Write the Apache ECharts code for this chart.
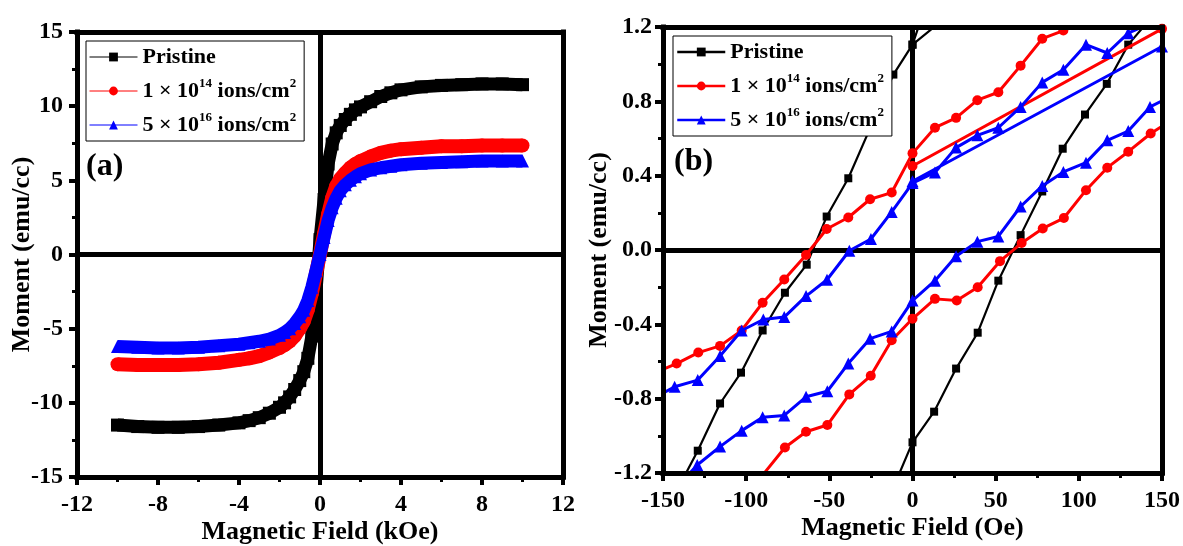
<!DOCTYPE html>
<html><head><meta charset="utf-8">
<script src="https://cdn.jsdelivr.net/npm/echarts@6/dist/echarts.min.js"></script>
<style>html,body{margin:0;padding:0;background:#fff}#c{width:1183px;height:546px}</style>
</head><body><div id="c"></div>
<script>
// ---------- DATA ----------
const seriesNames = ['Pristine', '1 × 10^14 ions/cm^2', '5 × 10^16 ions/cm^2'];

// Panel (a): field in kOe, moment in emu/cc
const fieldK = [-10, -9, -8, -7, -6, -5, -4, -3.5, -3, -2.5, -2, -1.75, -1.5, -1.25, -1, -0.8, -0.6, -0.4, -0.2, 0,
                0.2, 0.4, 0.6, 0.8, 1, 1.25, 1.5, 1.75, 2, 2.5, 3, 3.5, 4, 5, 6, 7, 8, 9, 10];
const pristineA = [-11.5, -11.6, -11.65, -11.65, -11.6, -11.5, -11.35, -11.2, -11.0, -10.7, -10.3, -10.0, -9.6, -9.1, -8.5, -7.9, -7.0, -5.5, -2.5, 1.0,
                   3.7, 6.1, 7.45, 8.2, 8.7, 9.1, 9.45, 9.75, 9.95, 10.3, 10.65, 10.9, 11.1, 11.3, 11.4, 11.45, 11.5, 11.5, 11.45];
const ion14A = [-7.4, -7.45, -7.45, -7.45, -7.4, -7.3, -7.1, -7.0, -6.85, -6.6, -6.3, -6.1, -5.85, -5.5, -5.0, -4.5, -3.7, -2.6, -1.3, 0,
                1.4, 2.7, 3.8, 4.6, 5.1, 5.5, 5.85, 6.1, 6.3, 6.6, 6.85, 7.0, 7.1, 7.2, 7.3, 7.3, 7.35, 7.35, 7.35];
const ion16A = [-6.2, -6.25, -6.3, -6.3, -6.25, -6.15, -6.05, -5.95, -5.85, -5.7, -5.45, -5.25, -5.0, -4.65, -4.2, -3.75, -3.1, -2.2, -1.1, 0,
                1.15, 2.3, 3.15, 3.8, 4.3, 4.7, 5.0, 5.25, 5.45, 5.7, 5.85, 5.95, 6.05, 6.15, 6.2, 6.25, 6.3, 6.3, 6.3];

// Panel (b): field in Oe, moment in emu/cc (null = break between out-of-view parts)
const pristineFieldB = [0, 150, null, 13, 0, -11.5, -25, -38.6, -51.6, -63.6, -76.7, -90.1, -103.1, -115.7, -129.1, -142, null,
                        -13, 0, 13, 26.2, 39.2, 51.6, 65, 78, 90.3, 103.7, 116.8, 129.7, 142.6];
const pristineMomB = [1.105, 2.2, null, 1.45, 1.105, 0.944, 0.665, 0.386, 0.18, -0.079, -0.23, -0.433, -0.66, -0.826, -1.08, -1.3, null,
                      -1.31, -1.035, -0.87, -0.638, -0.445, -0.165, 0.08, 0.315, 0.545, 0.729, 0.894, 1.105, 1.24];
const ion14FieldB = [0, 150, null, 104, 90.7, 78, 65, 51.6, 39, 26.2, 13.5, 0, -12.5, -25.5, -38.6, -51.6, -64, -77.1, -90.1, -102.7, -115.7, -128.8, -141.8, -155, null,
                     -103, -90, -76.7, -64, -51.2, -38, -25.1, -12.5, 0, 13.5, 26.6, 39.2, 52.6, 65.6, 78.3, 91, 104.3, 117.1, 129.7, 143.2, 156];
const ion14MomB = [0.452, 1.19, null, 1.24, 1.181, 1.137, 0.992, 0.849, 0.806, 0.711, 0.658, 0.52, 0.309, 0.273, 0.175, 0.113, -0.027, -0.159, -0.284, -0.433, -0.516, -0.552, -0.611, -0.66, null,
                   -1.4, -1.21, -1.063, -0.978, -0.942, -0.777, -0.677, -0.486, -0.37, -0.263, -0.272, -0.2, -0.06, 0.0375, 0.116, 0.172, 0.322, 0.443, 0.529, 0.627, 0.70];
const ion16FieldB = [0, 150, null, 156, 143, 129.7, 117.1, 104.3, 90.7, 78, 65, 51.6, 39, 26.2, 13.5, 0, -12.5, -25, -38, -51.4, -64, -77.1, -89.7, -102.7, -115.7, -129.1, -143, -156, null,
                     -142, -129.4, -115.7, -102.7, -90.1, -77.1, -64, -51.2, -38.6, -25.5, -12.5, 0, 13.5, 26.2, 39, 51.6, 65, 78, 90.7, 104.3, 117.1, 129.7, 142.8, 156];
const ion16MomB = [0.37, 1.095, null, 1.25, 1.22, 1.167, 1.06, 1.105, 0.970, 0.902, 0.770, 0.658, 0.617, 0.551, 0.417, 0.36, 0.205, 0.059, -0.004, -0.16, -0.248, -0.361, -0.374, -0.433, -0.57, -0.70, -0.736, -0.8, null,
                   -1.28, -1.157, -1.058, -0.972, -0.90, -0.89, -0.79, -0.76, -0.611, -0.477, -0.438, -0.272, -0.165, -0.034, 0.045, 0.073, 0.234, 0.345, 0.42, 0.47, 0.59, 0.64, 0.77, 0.83];

// ---------- CHART ----------
const FONT = 'Liberation Serif';
const colors = ['#000000', '#ff0000', '#0000ff'];
const symbols = ['rect', 'circle', 'triangle'];
const zip = (xs, ys) => xs.map((x, i) => (x === null || ys[i] === null) ? ['-', '-'] : [x, ys[i]]);

const lab = { fontFamily: FONT, fontWeight: 'bold', fontSize: 24, color: '#000' };
const nameStyle = { fontFamily: FONT, fontWeight: 'bold', fontSize: 26, color: '#000' };
const axLine = { onZero: false, lineStyle: { color: '#000', width: 5, cap: 'square' } };

function mainX(grid, min, max, interval, name) {
  return { gridIndex: grid, type: 'value', min, max, interval, position: 'bottom', z: 10,
    axisLine: axLine, axisTick: { length: 8, lineStyle: { color: '#000', width: 4 } },
    minorTick: { show: true, splitNumber: 2, length: 5, lineStyle: { color: '#000', width: 3 } },
    splitLine: { show: false }, minorSplitLine: { show: false },
    axisLabel: Object.assign({ margin: 16 }, lab),
    name, nameLocation: 'middle', nameGap: 42, nameMoveOverlap: false, nameTextStyle: nameStyle };
}
function mainY(grid, min, max, interval, name, fmt, gap, margin) {
  return { gridIndex: grid, type: 'value', min, max, interval, position: 'left', z: 10,
    axisLine: axLine, axisTick: { length: 8, lineStyle: { color: '#000', width: 4 } },
    minorTick: { show: true, splitNumber: 2, length: 5, lineStyle: { color: '#000', width: 3 } },
    splitLine: { show: false }, minorSplitLine: { show: false },
    axisLabel: Object.assign({ margin, formatter: fmt }, lab),
    name, nameLocation: 'middle', nameGap: gap, nameMoveOverlap: false, nameTextStyle: nameStyle };
}
function frameAxis(grid, min, max, pos) {
  return { gridIndex: grid, type: 'value', min, max, position: pos, z: 10,
    axisLine: axLine, axisTick: { show: false }, axisLabel: { show: false }, splitLine: { show: false } };
}

const zeroMark = {
  z: 1, silent: true, symbol: 'none', label: { show: false },
  lineStyle: { color: '#000', width: 5, type: 'solid' },
  data: [{ xAxis: 0 }, { yAxis: 0 }]
};

const seriesA = [pristineA, ion14A, ion16A].map((ys, i) => ({
  name: seriesNames[i], type: 'line', xAxisIndex: 0, yAxisIndex: 0,
  data: zip(fieldK, ys), symbol: symbols[i], symbolSize: [13, 14, 13][i],
  lineStyle: { color: colors[i], width: [13, 14, 13][i], join: 'round' },
  itemStyle: { color: colors[i] }, z: 2 + i, animation: false,
  markLine: i === 0 ? zeroMark : undefined
}));
const seriesB = [[pristineFieldB, pristineMomB], [ion14FieldB, ion14MomB], [ion16FieldB, ion16MomB]].map((d, i) => ({
  name: seriesNames[i], type: 'line', xAxisIndex: 2, yAxisIndex: 2,
  data: zip(d[0], d[1]), symbol: symbols[i], symbolSize: [8, 10, 12][i],
  lineStyle: { color: colors[i], width: [2.2, 3, 3][i] }, connectNulls: false,
  itemStyle: { color: colors[i] }, z: 2 + i, animation: false,
  markLine: i === 0 ? zeroMark : undefined
}));

const legendText = {
  fontFamily: FONT, fontWeight: 'bold', fontSize: 22, color: '#000', lineHeight: 28,
  rich: { sup: { fontFamily: FONT, fontWeight: 'bold', fontSize: 13, color: '#000', verticalAlign: 'top', lineHeight: 28 } }
};
const legendFmt = n => n.replace(/\^(\d+)/g, '{sup|$1}');
function makeLegend(left, top, lw) {
  return { data: seriesNames, orient: 'vertical', left, top, itemWidth: 48, itemHeight: 11, itemGap: 6,
    padding: [2, 8, 2, 3], borderColor: '#000', borderWidth: 1, backgroundColor: '#fff', selectedMode: false,
    lineStyle: { width: lw }, textStyle: legendText, formatter: legendFmt, z: 6 };
}

const chart = echarts.init(document.getElementById('c'), null, { renderer: 'canvas' });
chart.setOption({
  animation: false,
  backgroundColor: '#fff',
  grid: [
    { left: 77, top: 32, width: 486, height: 445, outerBoundsMode: 'none', containLabel: false },
    { left: 663, top: 27, width: 499, height: 446, outerBoundsMode: 'none', containLabel: false }
  ],
  xAxis: [
    mainX(0, -12, 12, 4, 'Magnetic Field (kOe)'),
    frameAxis(0, -12, 12, 'top'),
    mainX(1, -150, 150, 50, 'Magnetic Field (Oe)'),
    frameAxis(1, -150, 150, 'top')
  ],
  yAxis: [
    mainY(0, -15, 15, 5, 'Moment (emu/cc)', v => String(v), 42, 14),
    frameAxis(0, -15, 15, 'right'),
    mainY(1, -1.2, 1.2, 0.4, 'Moment (emu/cc)', v => v.toFixed(1), 51, 11),
    frameAxis(1, -1.2, 1.2, 'right')
  ],
  legend: [makeLegend(86, 41, 1), makeLegend(673, 36, 2.5)],
  title: [
    { text: '(a)', left: 86, top: 151, padding: 0, textStyle: { fontFamily: FONT, fontWeight: 'bold', fontSize: 32, color: '#000' } },
    { text: '(b)', left: 674, top: 146, padding: 0, textStyle: { fontFamily: FONT, fontWeight: 'bold', fontSize: 32, color: '#000' } }
  ],
  series: seriesA.concat(seriesB)
});
</script>
</body></html>
